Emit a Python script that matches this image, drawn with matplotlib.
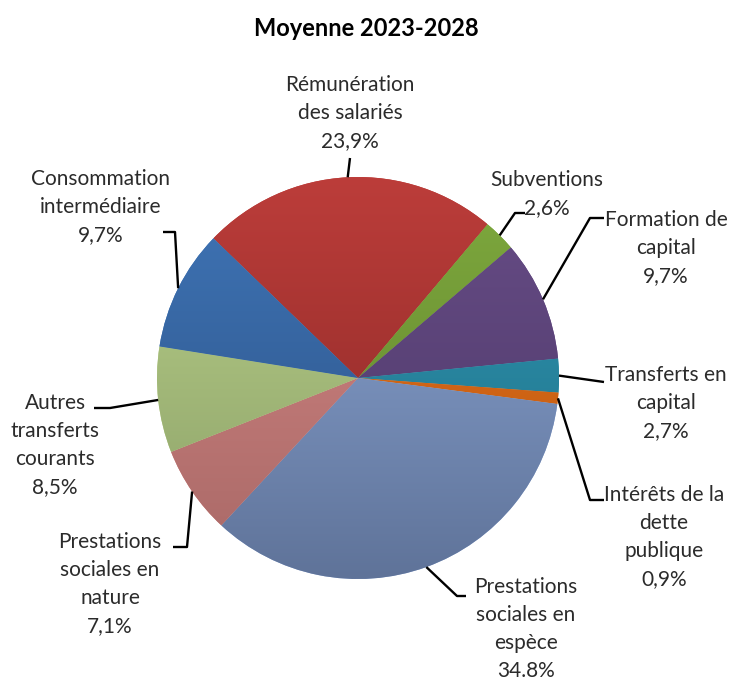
import numpy as np
import matplotlib.pyplot as plt
from matplotlib.colors import to_rgb

# Données du graphique
categories = ["Rémunération\ndes salariés", "Subventions", "Formation de\ncapital",
              "Transferts en\ncapital", "Intérêts de la\ndette\npublique",
              "Prestations\nsociales en\nespèce", "Prestations\nsociales en\nnature",
              "Autres\ntransferts\ncourants", "Consommation\nintermédiaire"]
values = [23.9, 2.6, 9.7, 2.7, 0.9, 34.8, 7.1, 8.5, 9.7]
value_labels = ["23,9%", "2,6%", "9,7%", "2,7%", "0,9%", "34.8%", "7,1%", "8,5%", "9,7%"]

# couleurs (haut, bas) pour le dégradé
colors_top = ["#BC3D3A", "#7FAA3E", "#684D87", "#2F97B3", "#E8731C",
              "#8EA9D8", "#D68886", "#BBD38C", "#4076B8"]
colors_bot = ["#862725", "#5E7F2C", "#4B3766", "#1F6F86", "#B8560F",
              "#5F7399", "#A86866", "#8A9E66", "#2A4F82"]

# position des étiquettes (pixels) et coude des lignes de rappel
PX_C = (358, 378)
PX_R = 201
label_pos = [(350, 113), (547, 194), (666, 248), (666, 403), (664, 537),
             (526, 629), (110, 584), (55, 445), (101, 207)]
leader_pts = [[(350, 158)], [(515, 213), (525, 213)], [(590, 218), (604, 218)],
              [(604, 382)], [(590, 500), (604, 500)], [(457, 596), (466, 596)],
              [(187, 547), (173, 547)], [(110, 408), (94, 408)],
              [(175, 232), (163, 232)]]


def px2d(p):
    return ((p[0] - PX_C[0]) / PX_R, (PX_C[1] - p[1]) / PX_R)


plt.rcParams['font.family'] = ['Lato', 'DejaVu Sans']
fig = plt.figure(figsize=(7.32, 6.8), dpi=100)
ax = fig.add_axes([0, 0, 1, 1])

wedges, _ = ax.pie(values, startangle=136, counterclock=False, radius=1,
                   wedgeprops=dict(linewidth=0))

# dégradé vertical dans chaque part
t = np.linspace(0, 1, 256)[:, None]
for w, ct, cb in zip(wedges, colors_top, colors_bot):
    ct = np.array(to_rgb(ct))
    cb = np.array(to_rgb(cb))
    grad = (1 - t)[:, :, None] * ct + t[:, :, None] * cb
    grad = np.repeat(grad, 2, axis=1)
    w.set_facecolor(ct)
    im = ax.imshow(grad, extent=[-1, 1, -1, 1], zorder=w.get_zorder() + 0.1,
                   interpolation='bilinear')
    im.set_clip_path(w)

# étiquettes et lignes de rappel
for w, cat, val, lp, pts in zip(wedges, categories, value_labels, label_pos, leader_pts):
    ang = np.deg2rad((w.theta1 + w.theta2) / 2)
    xs = [np.cos(ang)] + [px2d(p)[0] for p in pts]
    ys = [np.sin(ang)] + [px2d(p)[1] for p in pts]
    ax.plot(xs, ys, color='black', lw=1.7, zorder=5, solid_capstyle='butt')
    x, y = px2d(lp)
    ax.text(x, y, cat + "\n" + val, ha='center', va='center', multialignment='center',
            fontsize=15, color='#2b2b2b', linespacing=1.5, zorder=6)

ax.text(px2d((366, 28))[0], px2d((366, 28))[1], "Moyenne 2023-2028", ha='center',
        va='center', fontsize=17, fontweight='bold', color='black')

ax.set_xlim(-PX_C[0] / PX_R, (732 - PX_C[0]) / PX_R)
ax.set_ylim((PX_C[1] - 680) / PX_R, PX_C[1] / PX_R)
ax.set_aspect('equal')
ax.axis('off')

plt.savefig("out.png", dpi=100)
